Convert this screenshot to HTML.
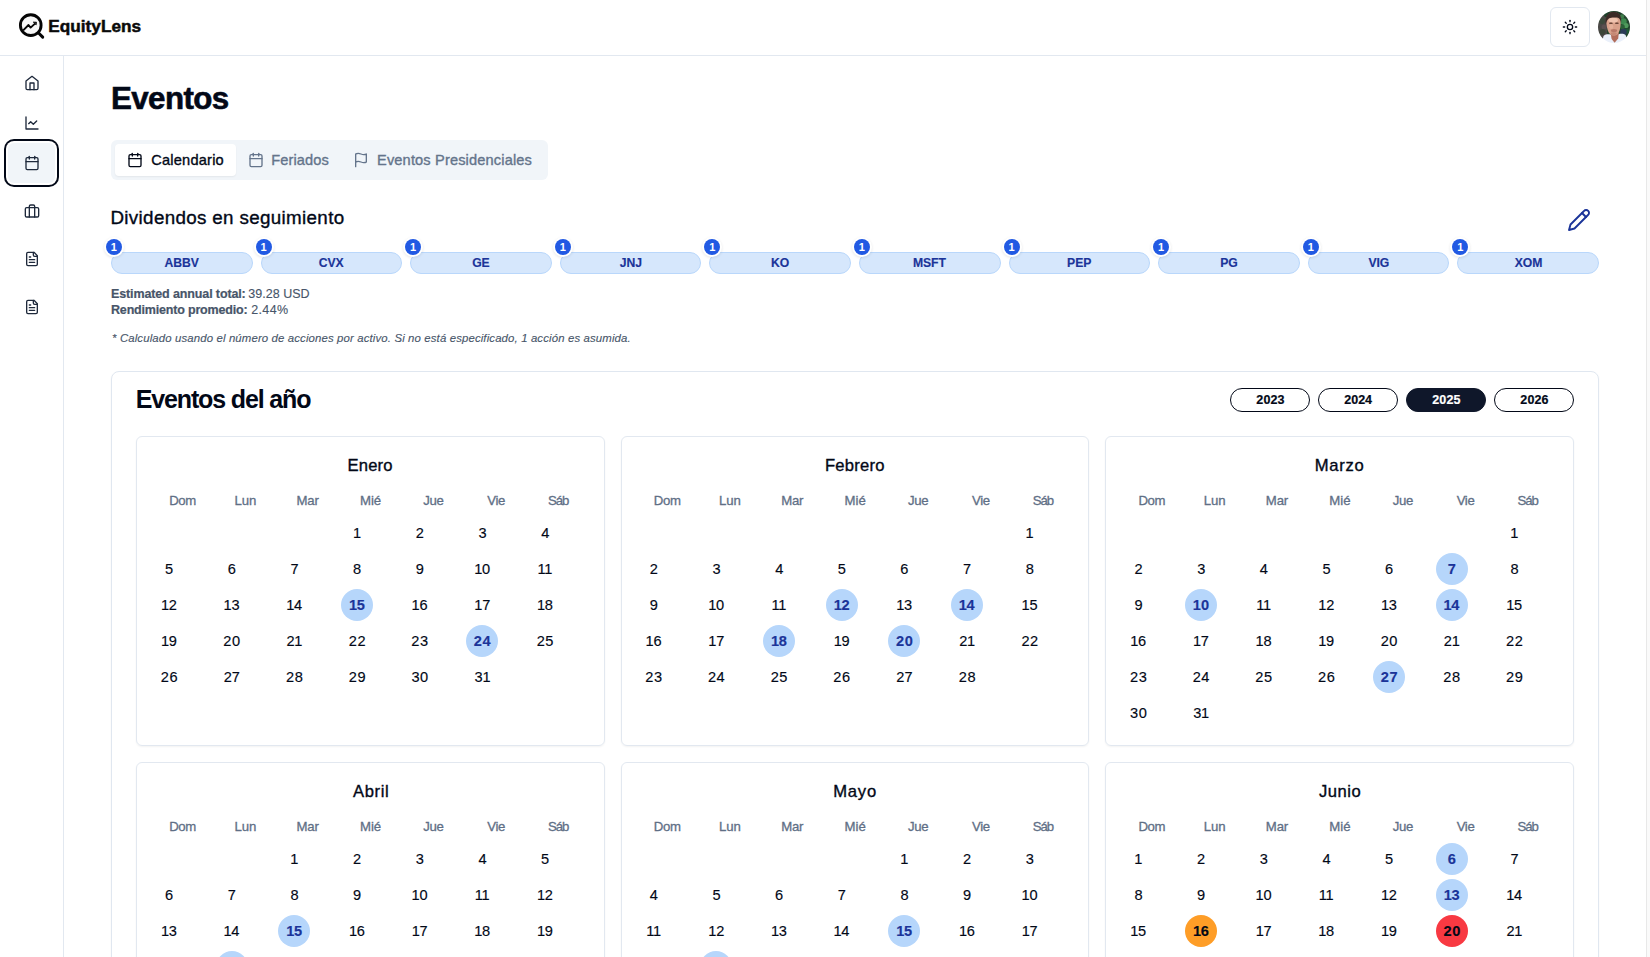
<!DOCTYPE html>
<html lang="es"><head><meta charset="utf-8"><title>EquityLens - Eventos</title>
<style>
html,body{margin:0;padding:0;background:#fff;}
body{width:1650px;height:957px;overflow:hidden;position:relative;font-family:'Liberation Sans',sans-serif;}
.t{position:absolute;white-space:pre;display:block;margin:0;padding:0;}
.hdr{position:absolute;left:0;top:0;width:1646px;height:55px;border-bottom:1px solid #e2e8f0;background:#fff;}
.side{position:absolute;left:0;top:56px;width:63px;height:901px;border-right:1px solid #e2e8f0;}
.sbar{position:absolute;left:1646px;top:0;width:4px;height:957px;background:#fafafa;border-left:1px solid #e8e8e8;box-sizing:border-box;}
.tbtn{position:absolute;left:1550px;top:7px;width:40px;height:40px;box-sizing:border-box;border:1px solid #e2e8f0;border-radius:6px;background:#fff;}
.act{position:absolute;left:8px;top:143px;width:47px;height:40px;border-radius:6px;background:#f1f5f9;box-shadow:0 0 0 2px #fff,0 0 0 4px #020817;}
.tabs{position:absolute;left:111px;top:140px;width:437px;height:40px;border-radius:6px;background:#f1f5f9;}
.tabact{position:absolute;left:115px;top:144px;width:121px;height:32px;border-radius:4px;background:#fff;box-shadow:0 1px 2px rgba(0,0,0,.06);}
.pill{position:absolute;top:252px;height:22px;box-sizing:border-box;border:1px solid #b9d7fb;border-radius:11px;background:#d6e7fc;}
.bdg{position:absolute;top:239px;width:16px;height:16px;border-radius:50%;background:#2159e3;box-shadow:0 0 0 2px #fff,0 1px 3px 2px rgba(0,0,0,.10);}
.card{position:absolute;left:111px;top:371px;width:1488px;height:700px;box-sizing:border-box;border:1px solid #e0e7f0;border-radius:8px;box-shadow:0 1px 2px rgba(0,0,0,.05);}
.yb{position:absolute;top:388px;width:80px;height:24px;box-sizing:border-box;border:1px solid #020817;border-radius:12px;background:#fff;}
.ys{background:#0f172a;border-color:#0f172a;}
.mc{position:absolute;height:310px;box-sizing:border-box;border:1px solid #e2e8f0;border-radius:6px;box-shadow:0 1px 2px rgba(0,0,0,.05);}
.ev{position:absolute;width:32px;height:32px;border-radius:50%;}
.evb{background:#b6d6fb;}
.evo{background:#fe9d27;}
.evr{background:#f83942;}
</style></head>
<body>
<div class="sbar"></div>
<header>
<div class="hdr"></div>
<svg style="position:absolute;left:16px;top:10px" width="32" height="32" viewBox="0 0 32 32" fill="none" stroke="#050505" stroke-linecap="round" stroke-linejoin="round">
<circle cx="14.75" cy="15.15" r="10.35" stroke-width="2.85" fill="#f7f7f7"/>
<path d="M22.6 23 L26.7 27.1" stroke-width="3"/>
<path d="M7.2 20.4 L12.5 15 L14.6 17.6 L19 13.6" stroke-width="1.9" stroke-linecap="butt"/>
<path d="M17.6 12.1 L20.5 12.2 L20.2 14.6 Z" fill="#050505" stroke-width="0.8"/>
</svg>
<span class="t" style="left:48.31px;top:16px;line-height:20px;height:20px;font-size:17.2px;font-weight:700;color:#0a0a0a;letter-spacing:0.022px;-webkit-text-stroke:0.5px #0a0a0a;">EquityLens</span>
<div class="tbtn"></div>
<svg style="position:absolute;left:1562px;top:19px" width="16" height="16" viewBox="0 0 24 24" fill="none" stroke="#020817" stroke-width="2" stroke-linecap="round" stroke-linejoin="round" ><circle cx="12" cy="12" r="4"/><path d="M12 2v2"/><path d="M12 20v2"/><path d="m4.93 4.93 1.41 1.41"/><path d="m17.66 17.66 1.41 1.41"/><path d="M2 12h2"/><path d="M20 12h2"/><path d="m6.34 17.66-1.41 1.41"/><path d="m19.07 4.93-1.41 1.41"/></svg>
<svg style="position:absolute;left:1598px;top:11px" width="32" height="32" viewBox="0 0 32 32">
<defs><clipPath id="av"><circle cx="16" cy="16" r="16"/></clipPath>
<filter id="bl" x="-10%" y="-10%" width="120%" height="120%"><feGaussianBlur stdDeviation="0.75"/></filter>
</defs>
<g clip-path="url(#av)"><g filter="url(#bl)">
<rect x="-2" y="-2" width="36" height="36" fill="#22442d"/>
<rect x="-2" y="4" width="11" height="27" fill="#4a4745"/>
<circle cx="4" cy="10" r="3" fill="#3b4a3b"/>
<circle cx="6" cy="16" r="2.5" fill="#5a5050"/>
<circle cx="4.5" cy="21" r="3" fill="#3a4438"/>
<circle cx="7.5" cy="25" r="2.5" fill="#4d4547"/>
<circle cx="9" cy="3.5" r="3" fill="#1f3f2a"/>
<circle cx="25.5" cy="10.5" r="3.2" fill="#3d8a50"/>
<circle cx="28" cy="14.5" r="2.6" fill="#4f9a5c"/>
<circle cx="24.5" cy="16" r="2.4" fill="#2a6038"/>
<circle cx="24" cy="5.5" r="2.2" fill="#3f7d4b"/>
<circle cx="28.5" cy="20" r="2.5" fill="#1f5a35"/>
<circle cx="25.5" cy="21" r="3.2" fill="#2a3a58"/>
<circle cx="20" cy="1.5" r="3" fill="#1d3b26"/>
<path d="M3 36 L5.5 25 C8 23 10.5 23.2 12.5 23.6 L20.6 23.2 C23 22.4 26 22.6 27.6 24 L31 36 Z" fill="#eaf0fa"/>
<path d="M12.6 22 L20.8 22 L20.2 27.5 L16.6 31.8 L13.6 28 Z" fill="#b26e5c"/>
<path d="M8.4 12.5 C7.4 5 11 1 15.5 1 C20.5 1 23.6 4.5 22.7 12.5 C22.4 17.5 21.4 21.4 19.6 23.2 C17.6 25 14.2 25 12.2 23.2 C10 21.2 9 17.5 8.4 12.5 Z" fill="#d9a18b"/>
<ellipse cx="15.2" cy="9.2" rx="4.6" ry="2.4" fill="#efc3af"/>
<ellipse cx="13.3" cy="15.5" rx="2" ry="2.6" fill="#e4b09a"/>
<path d="M7.8 13.2 C6.6 5.5 10.5 0.8 15.6 0.8 C21.2 0.8 24.2 5 23 12.6 C22.6 9 21.4 6.9 19 6.6 C16 6.3 13 6.2 11.2 7.2 C9.5 8.2 8.6 10.2 7.8 13.2 Z" fill="#3a2a28"/>
<ellipse cx="16" cy="19.4" rx="3.1" ry="1.5" fill="#a9685a" opacity="0.7"/>
<ellipse cx="15.8" cy="22.6" rx="3" ry="1.5" fill="#b87a68" opacity="0.6"/>
<rect x="11.2" y="11.6" width="3.4" height="1.5" rx="0.7" fill="#6a4438"/>
<rect x="17.2" y="11.6" width="3.4" height="1.5" rx="0.7" fill="#6a4438"/>
</g></g></svg>
</header>
<aside><nav>
<div class="side"></div>
<svg style="position:absolute;left:24px;top:75px" width="16" height="16" viewBox="0 0 24 24" fill="none" stroke="#1e293b" stroke-width="2" stroke-linecap="round" stroke-linejoin="round" ><path d="m3 9 9-7 9 7v11a2 2 0 0 1-2 2H5a2 2 0 0 1-2-2z"/><polyline points="9 22 9 12 15 12 15 22"/></svg>
<svg style="position:absolute;left:24px;top:115px" width="16" height="16" viewBox="0 0 24 24" fill="none" stroke="#1e293b" stroke-width="2" stroke-linecap="round" stroke-linejoin="round" ><path d="M3 3v18h18"/><path d="m19 9-5 5-4-4-3 3"/></svg>
<div class="act"></div>
<svg style="position:absolute;left:24px;top:155px" width="16" height="16" viewBox="0 0 24 24" fill="none" stroke="#1e293b" stroke-width="2" stroke-linecap="round" stroke-linejoin="round" ><path d="M8 2v4"/><path d="M16 2v4"/><rect width="18" height="18" x="3" y="4" rx="2"/><path d="M3 10h18"/></svg>
<svg style="position:absolute;left:24px;top:202.5px" width="16" height="16" viewBox="0 0 24 24" fill="none" stroke="#1e293b" stroke-width="2" stroke-linecap="round" stroke-linejoin="round" ><rect width="20" height="14" x="2" y="7" rx="2" ry="2"/><path d="M16 21V5a2 2 0 0 0-2-2h-4a2 2 0 0 0-2 2v16"/></svg>
<svg style="position:absolute;left:24px;top:251px" width="16" height="16" viewBox="0 0 24 24" fill="none" stroke="#1e293b" stroke-width="2" stroke-linecap="round" stroke-linejoin="round" ><path d="M15 2H6a2 2 0 0 0-2 2v16a2 2 0 0 0 2 2h12a2 2 0 0 0 2-2V7Z"/><path d="M14 2v4a2 2 0 0 0 2 2h4"/><path d="M10 9H8"/><path d="M16 13H8"/><path d="M16 17H8"/></svg>
<svg style="position:absolute;left:24px;top:299px" width="16" height="16" viewBox="0 0 24 24" fill="none" stroke="#1e293b" stroke-width="2" stroke-linecap="round" stroke-linejoin="round" ><path d="M15 2H6a2 2 0 0 0-2 2v16a2 2 0 0 0 2 2h12a2 2 0 0 0 2-2V7Z"/><path d="M14 2v4a2 2 0 0 0 2 2h4"/><path d="M10 9H8"/><path d="M16 13H8"/><path d="M16 17H8"/></svg>
</nav></aside>
<main>
<h1 class="t" style="left:110.97px;top:81px;line-height:35px;height:35px;font-size:31.3px;font-weight:700;color:#020817;letter-spacing:-0.592px;-webkit-text-stroke:0.6px #020817;">Eventos</h1>
<div role="tablist">
<div class="tabs"></div><div class="tabact"></div>
<svg style="position:absolute;left:127px;top:152px" width="16" height="16" viewBox="0 0 24 24" fill="none" stroke="#020817" stroke-width="2" stroke-linecap="round" stroke-linejoin="round" ><path d="M8 2v4"/><path d="M16 2v4"/><rect width="18" height="18" x="3" y="4" rx="2"/><path d="M3 10h18"/></svg>
<span class="t" style="left:151.28px;top:152px;line-height:16px;height:16px;font-size:14.6px;font-weight:400;color:#020817;letter-spacing:0.205px;-webkit-text-stroke:0.35px #020817;">Calendario</span>
<svg style="position:absolute;left:248px;top:152px" width="16" height="16" viewBox="0 0 24 24" fill="none" stroke="#64748b" stroke-width="2" stroke-linecap="round" stroke-linejoin="round" ><path d="M8 2v4"/><path d="M16 2v4"/><rect width="18" height="18" x="3" y="4" rx="2"/><path d="M3 10h18"/></svg>
<span class="t" style="left:271.34px;top:152px;line-height:16px;height:16px;font-size:14.6px;font-weight:400;color:#64748b;letter-spacing:0.092px;-webkit-text-stroke:0.35px #64748b;">Feriados</span>
<svg style="position:absolute;left:353px;top:152px" width="16" height="16" viewBox="0 0 24 24" fill="none" stroke="#64748b" stroke-width="2" stroke-linecap="round" stroke-linejoin="round" ><path d="M4 15s1-1 4-1 5 2 8 2 4-1 4-1V3s-1 1-4 1-5-2-8-2-4 1-4 1z"/><line x1="4" x2="4" y1="22" y2="15"/></svg>
<span class="t" style="left:377.02px;top:152px;line-height:16px;height:16px;font-size:14.6px;font-weight:400;color:#64748b;letter-spacing:0.150px;-webkit-text-stroke:0.35px #64748b;">Eventos Presidenciales</span>
</div>
<section>
<h2 class="t" style="left:110.44px;top:207px;line-height:21px;height:21px;font-size:18.8px;font-weight:400;color:#020817;letter-spacing:0.341px;-webkit-text-stroke:0.35px #020817;">Dividendos en seguimiento</h2>
<svg style="position:absolute;left:1567px;top:207.5px" width="24" height="24" viewBox="0 0 24 24" fill="none" stroke="#1b3499" stroke-width="1.9" stroke-linecap="round" stroke-linejoin="round" ><path d="M17 3a2.85 2.83 0 1 1 4 4L7.5 20.5 2 22l1.5-5.5Z"/><path d="m15 5 4 4"/></svg>
<div class="pill" style="left:111.00px;width:141.60px"></div>
<div class="bdg" style="left:106.00px"></div>
<span class="t" style="left:164.57px;top:256px;line-height:14px;height:14px;font-size:12.2px;font-weight:700;color:#1b3499;letter-spacing:-0.100px;-webkit-text-stroke:0.15px #1b3499;">ABBV</span>
<span class="t" style="left:110.84px;top:241px;line-height:12px;height:12px;font-size:11px;font-weight:700;color:#ffffff;letter-spacing:0.000px;">1</span>
<div class="pill" style="left:260.60px;width:141.60px"></div>
<div class="bdg" style="left:255.60px"></div>
<span class="t" style="left:318.77px;top:256px;line-height:14px;height:14px;font-size:12.2px;font-weight:700;color:#1b3499;letter-spacing:-0.100px;-webkit-text-stroke:0.15px #1b3499;">CVX</span>
<span class="t" style="left:260.44px;top:241px;line-height:12px;height:12px;font-size:11px;font-weight:700;color:#ffffff;letter-spacing:0.000px;">1</span>
<div class="pill" style="left:410.20px;width:141.60px"></div>
<div class="bdg" style="left:405.20px"></div>
<span class="t" style="left:472.23px;top:256px;line-height:14px;height:14px;font-size:12.2px;font-weight:700;color:#1b3499;letter-spacing:-0.100px;-webkit-text-stroke:0.15px #1b3499;">GE</span>
<span class="t" style="left:410.04px;top:241px;line-height:12px;height:12px;font-size:11px;font-weight:700;color:#ffffff;letter-spacing:0.000px;">1</span>
<div class="pill" style="left:559.80px;width:141.60px"></div>
<div class="bdg" style="left:554.80px"></div>
<span class="t" style="left:619.84px;top:256px;line-height:14px;height:14px;font-size:12.2px;font-weight:700;color:#1b3499;letter-spacing:-0.100px;-webkit-text-stroke:0.15px #1b3499;">JNJ</span>
<span class="t" style="left:559.64px;top:241px;line-height:12px;height:12px;font-size:11px;font-weight:700;color:#ffffff;letter-spacing:0.000px;">1</span>
<div class="pill" style="left:709.40px;width:141.60px"></div>
<div class="bdg" style="left:704.40px"></div>
<span class="t" style="left:770.96px;top:256px;line-height:14px;height:14px;font-size:12.2px;font-weight:700;color:#1b3499;letter-spacing:-0.100px;-webkit-text-stroke:0.15px #1b3499;">KO</span>
<span class="t" style="left:709.24px;top:241px;line-height:12px;height:12px;font-size:11px;font-weight:700;color:#ffffff;letter-spacing:0.000px;">1</span>
<div class="pill" style="left:859.00px;width:141.60px"></div>
<div class="bdg" style="left:854.00px"></div>
<span class="t" style="left:913.02px;top:256px;line-height:14px;height:14px;font-size:12.2px;font-weight:700;color:#1b3499;letter-spacing:-0.100px;-webkit-text-stroke:0.15px #1b3499;">MSFT</span>
<span class="t" style="left:858.84px;top:241px;line-height:12px;height:12px;font-size:11px;font-weight:700;color:#ffffff;letter-spacing:0.000px;">1</span>
<div class="pill" style="left:1008.60px;width:141.60px"></div>
<div class="bdg" style="left:1003.60px"></div>
<span class="t" style="left:1067.11px;top:256px;line-height:14px;height:14px;font-size:12.2px;font-weight:700;color:#1b3499;letter-spacing:-0.100px;-webkit-text-stroke:0.15px #1b3499;">PEP</span>
<span class="t" style="left:1008.44px;top:241px;line-height:12px;height:12px;font-size:11px;font-weight:700;color:#ffffff;letter-spacing:0.000px;">1</span>
<div class="pill" style="left:1158.20px;width:141.60px"></div>
<div class="bdg" style="left:1153.20px"></div>
<span class="t" style="left:1220.22px;top:256px;line-height:14px;height:14px;font-size:12.2px;font-weight:700;color:#1b3499;letter-spacing:-0.100px;-webkit-text-stroke:0.15px #1b3499;">PG</span>
<span class="t" style="left:1158.04px;top:241px;line-height:12px;height:12px;font-size:11px;font-weight:700;color:#ffffff;letter-spacing:0.000px;">1</span>
<div class="pill" style="left:1307.80px;width:141.60px"></div>
<div class="bdg" style="left:1302.80px"></div>
<span class="t" style="left:1368.54px;top:256px;line-height:14px;height:14px;font-size:12.2px;font-weight:700;color:#1b3499;letter-spacing:-0.100px;-webkit-text-stroke:0.15px #1b3499;">VIG</span>
<span class="t" style="left:1307.64px;top:241px;line-height:12px;height:12px;font-size:11px;font-weight:700;color:#ffffff;letter-spacing:0.000px;">1</span>
<div class="pill" style="left:1457.40px;width:141.60px"></div>
<div class="bdg" style="left:1452.40px"></div>
<span class="t" style="left:1514.77px;top:256px;line-height:14px;height:14px;font-size:12.2px;font-weight:700;color:#1b3499;letter-spacing:-0.100px;-webkit-text-stroke:0.15px #1b3499;">XOM</span>
<span class="t" style="left:1457.24px;top:241px;line-height:12px;height:12px;font-size:11px;font-weight:700;color:#ffffff;letter-spacing:0.000px;">1</span>
<span class="t" style="left:111.02px;top:287px;line-height:14px;height:14px;font-size:12.5px;font-weight:700;color:#475569;letter-spacing:-0.125px;-webkit-text-stroke:0.2px #475569;">Estimated annual total:</span>
<span class="t" style="left:248.26px;top:287px;line-height:14px;height:14px;font-size:12.5px;font-weight:400;color:#475569;letter-spacing:0.022px;-webkit-text-stroke:0.12px #475569;">39.28 USD</span>
<span class="t" style="left:111.02px;top:303px;line-height:14px;height:14px;font-size:12.5px;font-weight:700;color:#475569;letter-spacing:-0.183px;-webkit-text-stroke:0.2px #475569;">Rendimiento promedio:</span>
<span class="t" style="left:251.15px;top:303px;line-height:14px;height:14px;font-size:12.5px;font-weight:400;color:#475569;letter-spacing:0.370px;-webkit-text-stroke:0.12px #475569;">2.44%</span>
<span class="t" style="left:112.03px;top:332px;line-height:12px;height:12px;font-size:11.4px;font-weight:400;font-style:italic;color:#475569;letter-spacing:0.131px;-webkit-text-stroke:0.12px #475569;">* Calculado usando el número de acciones por activo. Si no está especificado, 1 acción es asumida.</span>
</section>
<section>
<div class="card"></div>
<h2 class="t" style="left:135.75px;top:385px;line-height:28px;height:28px;font-size:25px;font-weight:700;color:#020817;letter-spacing:-1.145px;">Eventos del año</h2>
<div class="yb" style="left:1230px"></div>
<span class="t" style="left:1256.37px;top:393px;line-height:14px;height:14px;font-size:12.5px;font-weight:700;color:#020817;letter-spacing:0.091px;-webkit-text-stroke:0.2px #020817;">2023</span>
<div class="yb" style="left:1318px"></div>
<span class="t" style="left:1344.37px;top:393px;line-height:14px;height:14px;font-size:12.5px;font-weight:700;color:#020817;letter-spacing:-0.037px;-webkit-text-stroke:0.2px #020817;">2024</span>
<div class="yb ys" style="left:1406px"></div>
<span class="t" style="left:1432.37px;top:393px;line-height:14px;height:14px;font-size:12.5px;font-weight:700;color:#ffffff;letter-spacing:0.056px;-webkit-text-stroke:0.2px #ffffff;">2025</span>
<div class="yb" style="left:1494px"></div>
<span class="t" style="left:1520.37px;top:393px;line-height:14px;height:14px;font-size:12.5px;font-weight:700;color:#020817;letter-spacing:0.091px;-webkit-text-stroke:0.2px #020817;">2026</span>
<div class="mc" style="left:136.00px;top:436px;width:468.67px"></div>
<h3 class="t" style="left:347.42px;top:456px;line-height:19px;height:19px;font-size:16.6px;font-weight:400;color:#020817;letter-spacing:0.219px;-webkit-text-stroke:0.35px #020817;">Enero</h3>
<span class="t" style="left:169.15px;top:493px;line-height:15px;height:15px;font-size:13.2px;font-weight:400;color:#5f6f86;letter-spacing:-0.395px;-webkit-text-stroke:0.3px #5f6f86;">Dom</span>
<span class="t" style="left:234.42px;top:493px;line-height:15px;height:15px;font-size:13.2px;font-weight:400;color:#5f6f86;letter-spacing:-0.088px;-webkit-text-stroke:0.3px #5f6f86;">Lun</span>
<span class="t" style="left:296.53px;top:493px;line-height:15px;height:15px;font-size:13.2px;font-weight:400;color:#5f6f86;letter-spacing:-0.208px;-webkit-text-stroke:0.3px #5f6f86;">Mar</span>
<span class="t" style="left:359.90px;top:493px;line-height:15px;height:15px;font-size:13.2px;font-weight:400;color:#5f6f86;letter-spacing:0.010px;-webkit-text-stroke:0.3px #5f6f86;">Mié</span>
<span class="t" style="left:423.34px;top:493px;line-height:15px;height:15px;font-size:13.2px;font-weight:400;color:#5f6f86;letter-spacing:-0.336px;-webkit-text-stroke:0.3px #5f6f86;">Jue</span>
<span class="t" style="left:487.31px;top:493px;line-height:15px;height:15px;font-size:13.2px;font-weight:400;color:#5f6f86;letter-spacing:-0.342px;-webkit-text-stroke:0.3px #5f6f86;">Vie</span>
<span class="t" style="left:548.08px;top:493px;line-height:15px;height:15px;font-size:13.2px;font-weight:400;color:#5f6f86;letter-spacing:-1.058px;-webkit-text-stroke:0.3px #5f6f86;">Sáb</span>
<span class="t" style="left:352.89px;top:525px;line-height:16px;height:16px;font-size:14.6px;font-weight:400;color:#020817;letter-spacing:0.000px;-webkit-text-stroke:0.15px #020817;">1</span>
<span class="t" style="left:415.75px;top:525px;line-height:16px;height:16px;font-size:14.6px;font-weight:400;color:#020817;letter-spacing:0.000px;-webkit-text-stroke:0.15px #020817;">2</span>
<span class="t" style="left:478.46px;top:525px;line-height:16px;height:16px;font-size:14.6px;font-weight:400;color:#020817;letter-spacing:0.000px;-webkit-text-stroke:0.15px #020817;">3</span>
<span class="t" style="left:541.13px;top:525px;line-height:16px;height:16px;font-size:14.6px;font-weight:400;color:#020817;letter-spacing:0.000px;-webkit-text-stroke:0.15px #020817;">4</span>
<span class="t" style="left:165.10px;top:561px;line-height:16px;height:16px;font-size:14.6px;font-weight:400;color:#020817;letter-spacing:0.000px;-webkit-text-stroke:0.15px #020817;">5</span>
<span class="t" style="left:227.70px;top:561px;line-height:16px;height:16px;font-size:14.6px;font-weight:400;color:#020817;letter-spacing:0.000px;-webkit-text-stroke:0.15px #020817;">6</span>
<span class="t" style="left:290.41px;top:561px;line-height:16px;height:16px;font-size:14.6px;font-weight:400;color:#020817;letter-spacing:0.000px;-webkit-text-stroke:0.15px #020817;">7</span>
<span class="t" style="left:353.09px;top:561px;line-height:16px;height:16px;font-size:14.6px;font-weight:400;color:#020817;letter-spacing:0.000px;-webkit-text-stroke:0.15px #020817;">8</span>
<span class="t" style="left:415.76px;top:561px;line-height:16px;height:16px;font-size:14.6px;font-weight:400;color:#020817;letter-spacing:0.000px;-webkit-text-stroke:0.15px #020817;">9</span>
<span class="t" style="left:474.25px;top:561px;line-height:16px;height:16px;font-size:14.6px;font-weight:400;color:#020817;letter-spacing:-0.300px;-webkit-text-stroke:0.15px #020817;">10</span>
<span class="t" style="left:537.52px;top:561px;line-height:16px;height:16px;font-size:14.6px;font-weight:400;color:#020817;letter-spacing:-0.300px;-webkit-text-stroke:0.15px #020817;">11</span>
<span class="t" style="left:160.99px;top:597px;line-height:16px;height:16px;font-size:14.6px;font-weight:400;color:#020817;letter-spacing:-0.300px;-webkit-text-stroke:0.15px #020817;">12</span>
<span class="t" style="left:223.61px;top:597px;line-height:16px;height:16px;font-size:14.6px;font-weight:400;color:#020817;letter-spacing:-0.300px;-webkit-text-stroke:0.15px #020817;">13</span>
<span class="t" style="left:286.17px;top:597px;line-height:16px;height:16px;font-size:14.6px;font-weight:400;color:#020817;letter-spacing:-0.300px;-webkit-text-stroke:0.15px #020817;">14</span>
<div class="ev evb" style="left:341.00px;top:589.00px"></div>
<span class="t" style="left:348.93px;top:597px;line-height:16px;height:16px;font-size:14.6px;font-weight:700;color:#1b3499;letter-spacing:-0.300px;-webkit-text-stroke:0.15px #1b3499;">15</span>
<span class="t" style="left:411.61px;top:597px;line-height:16px;height:16px;font-size:14.6px;font-weight:400;color:#020817;letter-spacing:-0.300px;-webkit-text-stroke:0.15px #020817;">16</span>
<span class="t" style="left:474.33px;top:597px;line-height:16px;height:16px;font-size:14.6px;font-weight:400;color:#020817;letter-spacing:-0.300px;-webkit-text-stroke:0.15px #020817;">17</span>
<span class="t" style="left:536.94px;top:597px;line-height:16px;height:16px;font-size:14.6px;font-weight:400;color:#020817;letter-spacing:-0.300px;-webkit-text-stroke:0.15px #020817;">18</span>
<span class="t" style="left:160.97px;top:633px;line-height:16px;height:16px;font-size:14.6px;font-weight:400;color:#020817;letter-spacing:-0.300px;-webkit-text-stroke:0.15px #020817;">19</span>
<span class="t" style="left:223.32px;top:633px;line-height:16px;height:16px;font-size:14.6px;font-weight:400;color:#020817;letter-spacing:0.600px;-webkit-text-stroke:0.15px #020817;">20</span>
<span class="t" style="left:286.51px;top:633px;line-height:16px;height:16px;font-size:14.6px;font-weight:400;color:#020817;letter-spacing:-0.300px;-webkit-text-stroke:0.15px #020817;">21</span>
<span class="t" style="left:348.73px;top:633px;line-height:16px;height:16px;font-size:14.6px;font-weight:400;color:#020817;letter-spacing:0.600px;-webkit-text-stroke:0.15px #020817;">22</span>
<span class="t" style="left:411.35px;top:633px;line-height:16px;height:16px;font-size:14.6px;font-weight:400;color:#020817;letter-spacing:0.600px;-webkit-text-stroke:0.15px #020817;">23</span>
<div class="ev evb" style="left:466.33px;top:625.00px"></div>
<span class="t" style="left:473.85px;top:633px;line-height:16px;height:16px;font-size:14.6px;font-weight:700;color:#1b3499;letter-spacing:0.600px;-webkit-text-stroke:0.15px #1b3499;">24</span>
<span class="t" style="left:536.67px;top:633px;line-height:16px;height:16px;font-size:14.6px;font-weight:400;color:#020817;letter-spacing:0.600px;-webkit-text-stroke:0.15px #020817;">25</span>
<span class="t" style="left:160.69px;top:669px;line-height:16px;height:16px;font-size:14.6px;font-weight:400;color:#020817;letter-spacing:0.600px;-webkit-text-stroke:0.15px #020817;">26</span>
<span class="t" style="left:223.68px;top:669px;line-height:16px;height:16px;font-size:14.6px;font-weight:400;color:#020817;letter-spacing:0.034px;-webkit-text-stroke:0.15px #020817;">27</span>
<span class="t" style="left:286.02px;top:669px;line-height:16px;height:16px;font-size:14.6px;font-weight:400;color:#020817;letter-spacing:0.600px;-webkit-text-stroke:0.15px #020817;">28</span>
<span class="t" style="left:348.71px;top:669px;line-height:16px;height:16px;font-size:14.6px;font-weight:400;color:#020817;letter-spacing:0.600px;-webkit-text-stroke:0.15px #020817;">29</span>
<span class="t" style="left:411.41px;top:669px;line-height:16px;height:16px;font-size:14.6px;font-weight:400;color:#020817;letter-spacing:0.600px;-webkit-text-stroke:0.15px #020817;">30</span>
<span class="t" style="left:474.59px;top:669px;line-height:16px;height:16px;font-size:14.6px;font-weight:400;color:#020817;letter-spacing:-0.300px;-webkit-text-stroke:0.15px #020817;">31</span>
<div class="mc" style="left:620.67px;top:436px;width:468.67px"></div>
<h3 class="t" style="left:824.89px;top:456px;line-height:19px;height:19px;font-size:16.6px;font-weight:400;color:#020817;letter-spacing:0.242px;-webkit-text-stroke:0.35px #020817;">Febrero</h3>
<span class="t" style="left:653.82px;top:493px;line-height:15px;height:15px;font-size:13.2px;font-weight:400;color:#5f6f86;letter-spacing:-0.395px;-webkit-text-stroke:0.3px #5f6f86;">Dom</span>
<span class="t" style="left:719.08px;top:493px;line-height:15px;height:15px;font-size:13.2px;font-weight:400;color:#5f6f86;letter-spacing:-0.088px;-webkit-text-stroke:0.3px #5f6f86;">Lun</span>
<span class="t" style="left:781.20px;top:493px;line-height:15px;height:15px;font-size:13.2px;font-weight:400;color:#5f6f86;letter-spacing:-0.208px;-webkit-text-stroke:0.3px #5f6f86;">Mar</span>
<span class="t" style="left:844.57px;top:493px;line-height:15px;height:15px;font-size:13.2px;font-weight:400;color:#5f6f86;letter-spacing:0.010px;-webkit-text-stroke:0.3px #5f6f86;">Mié</span>
<span class="t" style="left:908.01px;top:493px;line-height:15px;height:15px;font-size:13.2px;font-weight:400;color:#5f6f86;letter-spacing:-0.336px;-webkit-text-stroke:0.3px #5f6f86;">Jue</span>
<span class="t" style="left:971.98px;top:493px;line-height:15px;height:15px;font-size:13.2px;font-weight:400;color:#5f6f86;letter-spacing:-0.342px;-webkit-text-stroke:0.3px #5f6f86;">Vie</span>
<span class="t" style="left:1032.75px;top:493px;line-height:15px;height:15px;font-size:13.2px;font-weight:400;color:#5f6f86;letter-spacing:-1.058px;-webkit-text-stroke:0.3px #5f6f86;">Sáb</span>
<span class="t" style="left:1025.55px;top:525px;line-height:16px;height:16px;font-size:14.6px;font-weight:400;color:#020817;letter-spacing:0.000px;-webkit-text-stroke:0.15px #020817;">1</span>
<span class="t" style="left:649.75px;top:561px;line-height:16px;height:16px;font-size:14.6px;font-weight:400;color:#020817;letter-spacing:0.000px;-webkit-text-stroke:0.15px #020817;">2</span>
<span class="t" style="left:712.46px;top:561px;line-height:16px;height:16px;font-size:14.6px;font-weight:400;color:#020817;letter-spacing:0.000px;-webkit-text-stroke:0.15px #020817;">3</span>
<span class="t" style="left:775.13px;top:561px;line-height:16px;height:16px;font-size:14.6px;font-weight:400;color:#020817;letter-spacing:0.000px;-webkit-text-stroke:0.15px #020817;">4</span>
<span class="t" style="left:837.77px;top:561px;line-height:16px;height:16px;font-size:14.6px;font-weight:400;color:#020817;letter-spacing:0.000px;-webkit-text-stroke:0.15px #020817;">5</span>
<span class="t" style="left:900.37px;top:561px;line-height:16px;height:16px;font-size:14.6px;font-weight:400;color:#020817;letter-spacing:0.000px;-webkit-text-stroke:0.15px #020817;">6</span>
<span class="t" style="left:963.08px;top:561px;line-height:16px;height:16px;font-size:14.6px;font-weight:400;color:#020817;letter-spacing:0.000px;-webkit-text-stroke:0.15px #020817;">7</span>
<span class="t" style="left:1025.75px;top:561px;line-height:16px;height:16px;font-size:14.6px;font-weight:400;color:#020817;letter-spacing:0.000px;-webkit-text-stroke:0.15px #020817;">8</span>
<span class="t" style="left:649.76px;top:597px;line-height:16px;height:16px;font-size:14.6px;font-weight:400;color:#020817;letter-spacing:0.000px;-webkit-text-stroke:0.15px #020817;">9</span>
<span class="t" style="left:708.25px;top:597px;line-height:16px;height:16px;font-size:14.6px;font-weight:400;color:#020817;letter-spacing:-0.300px;-webkit-text-stroke:0.15px #020817;">10</span>
<span class="t" style="left:771.52px;top:597px;line-height:16px;height:16px;font-size:14.6px;font-weight:400;color:#020817;letter-spacing:-0.300px;-webkit-text-stroke:0.15px #020817;">11</span>
<div class="ev evb" style="left:825.67px;top:589.00px"></div>
<span class="t" style="left:833.68px;top:597px;line-height:16px;height:16px;font-size:14.6px;font-weight:700;color:#1b3499;letter-spacing:-0.300px;-webkit-text-stroke:0.15px #1b3499;">12</span>
<span class="t" style="left:896.28px;top:597px;line-height:16px;height:16px;font-size:14.6px;font-weight:400;color:#020817;letter-spacing:-0.300px;-webkit-text-stroke:0.15px #020817;">13</span>
<div class="ev evb" style="left:951.00px;top:589.00px"></div>
<span class="t" style="left:958.76px;top:597px;line-height:16px;height:16px;font-size:14.6px;font-weight:700;color:#1b3499;letter-spacing:-0.300px;-webkit-text-stroke:0.15px #1b3499;">14</span>
<span class="t" style="left:1021.60px;top:597px;line-height:16px;height:16px;font-size:14.6px;font-weight:400;color:#020817;letter-spacing:-0.300px;-webkit-text-stroke:0.15px #020817;">15</span>
<span class="t" style="left:645.61px;top:633px;line-height:16px;height:16px;font-size:14.6px;font-weight:400;color:#020817;letter-spacing:-0.300px;-webkit-text-stroke:0.15px #020817;">16</span>
<span class="t" style="left:708.33px;top:633px;line-height:16px;height:16px;font-size:14.6px;font-weight:400;color:#020817;letter-spacing:-0.300px;-webkit-text-stroke:0.15px #020817;">17</span>
<div class="ev evb" style="left:763.00px;top:625.00px"></div>
<span class="t" style="left:770.95px;top:633px;line-height:16px;height:16px;font-size:14.6px;font-weight:700;color:#1b3499;letter-spacing:-0.300px;-webkit-text-stroke:0.15px #1b3499;">18</span>
<span class="t" style="left:833.64px;top:633px;line-height:16px;height:16px;font-size:14.6px;font-weight:400;color:#020817;letter-spacing:-0.300px;-webkit-text-stroke:0.15px #020817;">19</span>
<div class="ev evb" style="left:888.33px;top:625.00px"></div>
<span class="t" style="left:896.11px;top:633px;line-height:16px;height:16px;font-size:14.6px;font-weight:700;color:#1b3499;letter-spacing:0.600px;-webkit-text-stroke:0.15px #1b3499;">20</span>
<span class="t" style="left:959.17px;top:633px;line-height:16px;height:16px;font-size:14.6px;font-weight:400;color:#020817;letter-spacing:-0.300px;-webkit-text-stroke:0.15px #020817;">21</span>
<span class="t" style="left:1021.40px;top:633px;line-height:16px;height:16px;font-size:14.6px;font-weight:400;color:#020817;letter-spacing:0.600px;-webkit-text-stroke:0.15px #020817;">22</span>
<span class="t" style="left:645.35px;top:669px;line-height:16px;height:16px;font-size:14.6px;font-weight:400;color:#020817;letter-spacing:0.600px;-webkit-text-stroke:0.15px #020817;">23</span>
<span class="t" style="left:708.00px;top:669px;line-height:16px;height:16px;font-size:14.6px;font-weight:400;color:#020817;letter-spacing:0.428px;-webkit-text-stroke:0.15px #020817;">24</span>
<span class="t" style="left:770.67px;top:669px;line-height:16px;height:16px;font-size:14.6px;font-weight:400;color:#020817;letter-spacing:0.600px;-webkit-text-stroke:0.15px #020817;">25</span>
<span class="t" style="left:833.35px;top:669px;line-height:16px;height:16px;font-size:14.6px;font-weight:400;color:#020817;letter-spacing:0.600px;-webkit-text-stroke:0.15px #020817;">26</span>
<span class="t" style="left:896.35px;top:669px;line-height:16px;height:16px;font-size:14.6px;font-weight:400;color:#020817;letter-spacing:0.034px;-webkit-text-stroke:0.15px #020817;">27</span>
<span class="t" style="left:958.68px;top:669px;line-height:16px;height:16px;font-size:14.6px;font-weight:400;color:#020817;letter-spacing:0.600px;-webkit-text-stroke:0.15px #020817;">28</span>
<div class="mc" style="left:1105.33px;top:436px;width:468.67px"></div>
<h3 class="t" style="left:1314.80px;top:456px;line-height:19px;height:19px;font-size:16.6px;font-weight:400;color:#020817;letter-spacing:0.737px;-webkit-text-stroke:0.35px #020817;">Marzo</h3>
<span class="t" style="left:1138.48px;top:493px;line-height:15px;height:15px;font-size:13.2px;font-weight:400;color:#5f6f86;letter-spacing:-0.395px;-webkit-text-stroke:0.3px #5f6f86;">Dom</span>
<span class="t" style="left:1203.75px;top:493px;line-height:15px;height:15px;font-size:13.2px;font-weight:400;color:#5f6f86;letter-spacing:-0.088px;-webkit-text-stroke:0.3px #5f6f86;">Lun</span>
<span class="t" style="left:1265.87px;top:493px;line-height:15px;height:15px;font-size:13.2px;font-weight:400;color:#5f6f86;letter-spacing:-0.208px;-webkit-text-stroke:0.3px #5f6f86;">Mar</span>
<span class="t" style="left:1329.23px;top:493px;line-height:15px;height:15px;font-size:13.2px;font-weight:400;color:#5f6f86;letter-spacing:0.010px;-webkit-text-stroke:0.3px #5f6f86;">Mié</span>
<span class="t" style="left:1392.68px;top:493px;line-height:15px;height:15px;font-size:13.2px;font-weight:400;color:#5f6f86;letter-spacing:-0.336px;-webkit-text-stroke:0.3px #5f6f86;">Jue</span>
<span class="t" style="left:1456.64px;top:493px;line-height:15px;height:15px;font-size:13.2px;font-weight:400;color:#5f6f86;letter-spacing:-0.342px;-webkit-text-stroke:0.3px #5f6f86;">Vie</span>
<span class="t" style="left:1517.42px;top:493px;line-height:15px;height:15px;font-size:13.2px;font-weight:400;color:#5f6f86;letter-spacing:-1.058px;-webkit-text-stroke:0.3px #5f6f86;">Sáb</span>
<span class="t" style="left:1510.22px;top:525px;line-height:16px;height:16px;font-size:14.6px;font-weight:400;color:#020817;letter-spacing:0.000px;-webkit-text-stroke:0.15px #020817;">1</span>
<span class="t" style="left:1134.42px;top:561px;line-height:16px;height:16px;font-size:14.6px;font-weight:400;color:#020817;letter-spacing:0.000px;-webkit-text-stroke:0.15px #020817;">2</span>
<span class="t" style="left:1197.13px;top:561px;line-height:16px;height:16px;font-size:14.6px;font-weight:400;color:#020817;letter-spacing:0.000px;-webkit-text-stroke:0.15px #020817;">3</span>
<span class="t" style="left:1259.80px;top:561px;line-height:16px;height:16px;font-size:14.6px;font-weight:400;color:#020817;letter-spacing:0.000px;-webkit-text-stroke:0.15px #020817;">4</span>
<span class="t" style="left:1322.44px;top:561px;line-height:16px;height:16px;font-size:14.6px;font-weight:400;color:#020817;letter-spacing:0.000px;-webkit-text-stroke:0.15px #020817;">5</span>
<span class="t" style="left:1385.04px;top:561px;line-height:16px;height:16px;font-size:14.6px;font-weight:400;color:#020817;letter-spacing:0.000px;-webkit-text-stroke:0.15px #020817;">6</span>
<div class="ev evb" style="left:1435.67px;top:553.00px"></div>
<span class="t" style="left:1447.76px;top:561px;line-height:16px;height:16px;font-size:14.6px;font-weight:700;color:#1b3499;letter-spacing:0.000px;-webkit-text-stroke:0.15px #1b3499;">7</span>
<span class="t" style="left:1510.42px;top:561px;line-height:16px;height:16px;font-size:14.6px;font-weight:400;color:#020817;letter-spacing:0.000px;-webkit-text-stroke:0.15px #020817;">8</span>
<span class="t" style="left:1134.42px;top:597px;line-height:16px;height:16px;font-size:14.6px;font-weight:400;color:#020817;letter-spacing:0.000px;-webkit-text-stroke:0.15px #020817;">9</span>
<div class="ev evb" style="left:1185.00px;top:589.00px"></div>
<span class="t" style="left:1192.78px;top:597px;line-height:16px;height:16px;font-size:14.6px;font-weight:700;color:#1b3499;letter-spacing:0.184px;-webkit-text-stroke:0.15px #1b3499;">10</span>
<span class="t" style="left:1256.19px;top:597px;line-height:16px;height:16px;font-size:14.6px;font-weight:400;color:#020817;letter-spacing:-0.300px;-webkit-text-stroke:0.15px #020817;">11</span>
<span class="t" style="left:1318.33px;top:597px;line-height:16px;height:16px;font-size:14.6px;font-weight:400;color:#020817;letter-spacing:-0.300px;-webkit-text-stroke:0.15px #020817;">12</span>
<span class="t" style="left:1380.95px;top:597px;line-height:16px;height:16px;font-size:14.6px;font-weight:400;color:#020817;letter-spacing:-0.300px;-webkit-text-stroke:0.15px #020817;">13</span>
<div class="ev evb" style="left:1435.67px;top:589.00px"></div>
<span class="t" style="left:1443.43px;top:597px;line-height:16px;height:16px;font-size:14.6px;font-weight:700;color:#1b3499;letter-spacing:-0.300px;-webkit-text-stroke:0.15px #1b3499;">14</span>
<span class="t" style="left:1506.27px;top:597px;line-height:16px;height:16px;font-size:14.6px;font-weight:400;color:#020817;letter-spacing:-0.300px;-webkit-text-stroke:0.15px #020817;">15</span>
<span class="t" style="left:1130.28px;top:633px;line-height:16px;height:16px;font-size:14.6px;font-weight:400;color:#020817;letter-spacing:-0.300px;-webkit-text-stroke:0.15px #020817;">16</span>
<span class="t" style="left:1192.99px;top:633px;line-height:16px;height:16px;font-size:14.6px;font-weight:400;color:#020817;letter-spacing:-0.300px;-webkit-text-stroke:0.15px #020817;">17</span>
<span class="t" style="left:1255.61px;top:633px;line-height:16px;height:16px;font-size:14.6px;font-weight:400;color:#020817;letter-spacing:-0.300px;-webkit-text-stroke:0.15px #020817;">18</span>
<span class="t" style="left:1318.31px;top:633px;line-height:16px;height:16px;font-size:14.6px;font-weight:400;color:#020817;letter-spacing:-0.300px;-webkit-text-stroke:0.15px #020817;">19</span>
<span class="t" style="left:1380.65px;top:633px;line-height:16px;height:16px;font-size:14.6px;font-weight:400;color:#020817;letter-spacing:0.600px;-webkit-text-stroke:0.15px #020817;">20</span>
<span class="t" style="left:1443.84px;top:633px;line-height:16px;height:16px;font-size:14.6px;font-weight:400;color:#020817;letter-spacing:-0.300px;-webkit-text-stroke:0.15px #020817;">21</span>
<span class="t" style="left:1506.07px;top:633px;line-height:16px;height:16px;font-size:14.6px;font-weight:400;color:#020817;letter-spacing:0.600px;-webkit-text-stroke:0.15px #020817;">22</span>
<span class="t" style="left:1130.02px;top:669px;line-height:16px;height:16px;font-size:14.6px;font-weight:400;color:#020817;letter-spacing:0.600px;-webkit-text-stroke:0.15px #020817;">23</span>
<span class="t" style="left:1192.67px;top:669px;line-height:16px;height:16px;font-size:14.6px;font-weight:400;color:#020817;letter-spacing:0.428px;-webkit-text-stroke:0.15px #020817;">24</span>
<span class="t" style="left:1255.34px;top:669px;line-height:16px;height:16px;font-size:14.6px;font-weight:400;color:#020817;letter-spacing:0.600px;-webkit-text-stroke:0.15px #020817;">25</span>
<span class="t" style="left:1318.02px;top:669px;line-height:16px;height:16px;font-size:14.6px;font-weight:400;color:#020817;letter-spacing:0.600px;-webkit-text-stroke:0.15px #020817;">26</span>
<div class="ev evb" style="left:1373.00px;top:661.00px"></div>
<span class="t" style="left:1380.84px;top:669px;line-height:16px;height:16px;font-size:14.6px;font-weight:700;color:#1b3499;letter-spacing:0.513px;-webkit-text-stroke:0.15px #1b3499;">27</span>
<span class="t" style="left:1443.35px;top:669px;line-height:16px;height:16px;font-size:14.6px;font-weight:400;color:#020817;letter-spacing:0.600px;-webkit-text-stroke:0.15px #020817;">28</span>
<span class="t" style="left:1506.04px;top:669px;line-height:16px;height:16px;font-size:14.6px;font-weight:400;color:#020817;letter-spacing:0.600px;-webkit-text-stroke:0.15px #020817;">29</span>
<span class="t" style="left:1130.07px;top:705px;line-height:16px;height:16px;font-size:14.6px;font-weight:400;color:#020817;letter-spacing:0.600px;-webkit-text-stroke:0.15px #020817;">30</span>
<span class="t" style="left:1193.26px;top:705px;line-height:16px;height:16px;font-size:14.6px;font-weight:400;color:#020817;letter-spacing:-0.300px;-webkit-text-stroke:0.15px #020817;">31</span>
<div class="mc" style="left:136.00px;top:762px;width:468.67px"></div>
<h3 class="t" style="left:353.10px;top:782px;line-height:19px;height:19px;font-size:16.6px;font-weight:400;color:#020817;letter-spacing:0.585px;-webkit-text-stroke:0.35px #020817;">Abril</h3>
<span class="t" style="left:169.15px;top:819px;line-height:15px;height:15px;font-size:13.2px;font-weight:400;color:#5f6f86;letter-spacing:-0.395px;-webkit-text-stroke:0.3px #5f6f86;">Dom</span>
<span class="t" style="left:234.42px;top:819px;line-height:15px;height:15px;font-size:13.2px;font-weight:400;color:#5f6f86;letter-spacing:-0.088px;-webkit-text-stroke:0.3px #5f6f86;">Lun</span>
<span class="t" style="left:296.53px;top:819px;line-height:15px;height:15px;font-size:13.2px;font-weight:400;color:#5f6f86;letter-spacing:-0.208px;-webkit-text-stroke:0.3px #5f6f86;">Mar</span>
<span class="t" style="left:359.90px;top:819px;line-height:15px;height:15px;font-size:13.2px;font-weight:400;color:#5f6f86;letter-spacing:0.010px;-webkit-text-stroke:0.3px #5f6f86;">Mié</span>
<span class="t" style="left:423.34px;top:819px;line-height:15px;height:15px;font-size:13.2px;font-weight:400;color:#5f6f86;letter-spacing:-0.336px;-webkit-text-stroke:0.3px #5f6f86;">Jue</span>
<span class="t" style="left:487.31px;top:819px;line-height:15px;height:15px;font-size:13.2px;font-weight:400;color:#5f6f86;letter-spacing:-0.342px;-webkit-text-stroke:0.3px #5f6f86;">Vie</span>
<span class="t" style="left:548.08px;top:819px;line-height:15px;height:15px;font-size:13.2px;font-weight:400;color:#5f6f86;letter-spacing:-1.058px;-webkit-text-stroke:0.3px #5f6f86;">Sáb</span>
<span class="t" style="left:290.22px;top:851px;line-height:16px;height:16px;font-size:14.6px;font-weight:400;color:#020817;letter-spacing:0.000px;-webkit-text-stroke:0.15px #020817;">1</span>
<span class="t" style="left:353.09px;top:851px;line-height:16px;height:16px;font-size:14.6px;font-weight:400;color:#020817;letter-spacing:0.000px;-webkit-text-stroke:0.15px #020817;">2</span>
<span class="t" style="left:415.80px;top:851px;line-height:16px;height:16px;font-size:14.6px;font-weight:400;color:#020817;letter-spacing:0.000px;-webkit-text-stroke:0.15px #020817;">3</span>
<span class="t" style="left:478.47px;top:851px;line-height:16px;height:16px;font-size:14.6px;font-weight:400;color:#020817;letter-spacing:0.000px;-webkit-text-stroke:0.15px #020817;">4</span>
<span class="t" style="left:541.10px;top:851px;line-height:16px;height:16px;font-size:14.6px;font-weight:400;color:#020817;letter-spacing:0.000px;-webkit-text-stroke:0.15px #020817;">5</span>
<span class="t" style="left:165.04px;top:887px;line-height:16px;height:16px;font-size:14.6px;font-weight:400;color:#020817;letter-spacing:0.000px;-webkit-text-stroke:0.15px #020817;">6</span>
<span class="t" style="left:227.75px;top:887px;line-height:16px;height:16px;font-size:14.6px;font-weight:400;color:#020817;letter-spacing:0.000px;-webkit-text-stroke:0.15px #020817;">7</span>
<span class="t" style="left:290.42px;top:887px;line-height:16px;height:16px;font-size:14.6px;font-weight:400;color:#020817;letter-spacing:0.000px;-webkit-text-stroke:0.15px #020817;">8</span>
<span class="t" style="left:353.09px;top:887px;line-height:16px;height:16px;font-size:14.6px;font-weight:400;color:#020817;letter-spacing:0.000px;-webkit-text-stroke:0.15px #020817;">9</span>
<span class="t" style="left:411.58px;top:887px;line-height:16px;height:16px;font-size:14.6px;font-weight:400;color:#020817;letter-spacing:-0.300px;-webkit-text-stroke:0.15px #020817;">10</span>
<span class="t" style="left:474.86px;top:887px;line-height:16px;height:16px;font-size:14.6px;font-weight:400;color:#020817;letter-spacing:-0.300px;-webkit-text-stroke:0.15px #020817;">11</span>
<span class="t" style="left:536.99px;top:887px;line-height:16px;height:16px;font-size:14.6px;font-weight:400;color:#020817;letter-spacing:-0.300px;-webkit-text-stroke:0.15px #020817;">12</span>
<span class="t" style="left:160.95px;top:923px;line-height:16px;height:16px;font-size:14.6px;font-weight:400;color:#020817;letter-spacing:-0.300px;-webkit-text-stroke:0.15px #020817;">13</span>
<span class="t" style="left:223.51px;top:923px;line-height:16px;height:16px;font-size:14.6px;font-weight:400;color:#020817;letter-spacing:-0.300px;-webkit-text-stroke:0.15px #020817;">14</span>
<div class="ev evb" style="left:278.33px;top:915.00px"></div>
<span class="t" style="left:286.26px;top:923px;line-height:16px;height:16px;font-size:14.6px;font-weight:700;color:#1b3499;letter-spacing:-0.300px;-webkit-text-stroke:0.15px #1b3499;">15</span>
<span class="t" style="left:348.95px;top:923px;line-height:16px;height:16px;font-size:14.6px;font-weight:400;color:#020817;letter-spacing:-0.300px;-webkit-text-stroke:0.15px #020817;">16</span>
<span class="t" style="left:411.66px;top:923px;line-height:16px;height:16px;font-size:14.6px;font-weight:400;color:#020817;letter-spacing:-0.300px;-webkit-text-stroke:0.15px #020817;">17</span>
<span class="t" style="left:474.28px;top:923px;line-height:16px;height:16px;font-size:14.6px;font-weight:400;color:#020817;letter-spacing:-0.300px;-webkit-text-stroke:0.15px #020817;">18</span>
<span class="t" style="left:536.97px;top:923px;line-height:16px;height:16px;font-size:14.6px;font-weight:400;color:#020817;letter-spacing:-0.300px;-webkit-text-stroke:0.15px #020817;">19</span>
<span class="t" style="left:160.65px;top:959px;line-height:16px;height:16px;font-size:14.6px;font-weight:400;color:#020817;letter-spacing:0.600px;-webkit-text-stroke:0.15px #020817;">20</span>
<div class="ev evb" style="left:215.67px;top:951.00px"></div>
<span class="t" style="left:223.80px;top:959px;line-height:16px;height:16px;font-size:14.6px;font-weight:700;color:#1b3499;letter-spacing:-0.300px;-webkit-text-stroke:0.15px #1b3499;">21</span>
<span class="t" style="left:286.07px;top:959px;line-height:16px;height:16px;font-size:14.6px;font-weight:400;color:#020817;letter-spacing:0.600px;-webkit-text-stroke:0.15px #020817;">22</span>
<span class="t" style="left:348.69px;top:959px;line-height:16px;height:16px;font-size:14.6px;font-weight:400;color:#020817;letter-spacing:0.600px;-webkit-text-stroke:0.15px #020817;">23</span>
<span class="t" style="left:411.33px;top:959px;line-height:16px;height:16px;font-size:14.6px;font-weight:400;color:#020817;letter-spacing:0.428px;-webkit-text-stroke:0.15px #020817;">24</span>
<span class="t" style="left:474.01px;top:959px;line-height:16px;height:16px;font-size:14.6px;font-weight:400;color:#020817;letter-spacing:0.600px;-webkit-text-stroke:0.15px #020817;">25</span>
<span class="t" style="left:536.69px;top:959px;line-height:16px;height:16px;font-size:14.6px;font-weight:400;color:#020817;letter-spacing:0.600px;-webkit-text-stroke:0.15px #020817;">26</span>
<div class="mc" style="left:620.67px;top:762px;width:468.67px"></div>
<h3 class="t" style="left:833.19px;top:782px;line-height:19px;height:19px;font-size:16.6px;font-weight:400;color:#020817;letter-spacing:0.794px;-webkit-text-stroke:0.35px #020817;">Mayo</h3>
<span class="t" style="left:653.82px;top:819px;line-height:15px;height:15px;font-size:13.2px;font-weight:400;color:#5f6f86;letter-spacing:-0.395px;-webkit-text-stroke:0.3px #5f6f86;">Dom</span>
<span class="t" style="left:719.08px;top:819px;line-height:15px;height:15px;font-size:13.2px;font-weight:400;color:#5f6f86;letter-spacing:-0.088px;-webkit-text-stroke:0.3px #5f6f86;">Lun</span>
<span class="t" style="left:781.20px;top:819px;line-height:15px;height:15px;font-size:13.2px;font-weight:400;color:#5f6f86;letter-spacing:-0.208px;-webkit-text-stroke:0.3px #5f6f86;">Mar</span>
<span class="t" style="left:844.57px;top:819px;line-height:15px;height:15px;font-size:13.2px;font-weight:400;color:#5f6f86;letter-spacing:0.010px;-webkit-text-stroke:0.3px #5f6f86;">Mié</span>
<span class="t" style="left:908.01px;top:819px;line-height:15px;height:15px;font-size:13.2px;font-weight:400;color:#5f6f86;letter-spacing:-0.336px;-webkit-text-stroke:0.3px #5f6f86;">Jue</span>
<span class="t" style="left:971.98px;top:819px;line-height:15px;height:15px;font-size:13.2px;font-weight:400;color:#5f6f86;letter-spacing:-0.342px;-webkit-text-stroke:0.3px #5f6f86;">Vie</span>
<span class="t" style="left:1032.75px;top:819px;line-height:15px;height:15px;font-size:13.2px;font-weight:400;color:#5f6f86;letter-spacing:-1.058px;-webkit-text-stroke:0.3px #5f6f86;">Sáb</span>
<span class="t" style="left:900.22px;top:851px;line-height:16px;height:16px;font-size:14.6px;font-weight:400;color:#020817;letter-spacing:0.000px;-webkit-text-stroke:0.15px #020817;">1</span>
<span class="t" style="left:963.09px;top:851px;line-height:16px;height:16px;font-size:14.6px;font-weight:400;color:#020817;letter-spacing:0.000px;-webkit-text-stroke:0.15px #020817;">2</span>
<span class="t" style="left:1025.80px;top:851px;line-height:16px;height:16px;font-size:14.6px;font-weight:400;color:#020817;letter-spacing:0.000px;-webkit-text-stroke:0.15px #020817;">3</span>
<span class="t" style="left:649.80px;top:887px;line-height:16px;height:16px;font-size:14.6px;font-weight:400;color:#020817;letter-spacing:0.000px;-webkit-text-stroke:0.15px #020817;">4</span>
<span class="t" style="left:712.44px;top:887px;line-height:16px;height:16px;font-size:14.6px;font-weight:400;color:#020817;letter-spacing:0.000px;-webkit-text-stroke:0.15px #020817;">5</span>
<span class="t" style="left:775.04px;top:887px;line-height:16px;height:16px;font-size:14.6px;font-weight:400;color:#020817;letter-spacing:0.000px;-webkit-text-stroke:0.15px #020817;">6</span>
<span class="t" style="left:837.75px;top:887px;line-height:16px;height:16px;font-size:14.6px;font-weight:400;color:#020817;letter-spacing:0.000px;-webkit-text-stroke:0.15px #020817;">7</span>
<span class="t" style="left:900.42px;top:887px;line-height:16px;height:16px;font-size:14.6px;font-weight:400;color:#020817;letter-spacing:0.000px;-webkit-text-stroke:0.15px #020817;">8</span>
<span class="t" style="left:963.09px;top:887px;line-height:16px;height:16px;font-size:14.6px;font-weight:400;color:#020817;letter-spacing:0.000px;-webkit-text-stroke:0.15px #020817;">9</span>
<span class="t" style="left:1021.58px;top:887px;line-height:16px;height:16px;font-size:14.6px;font-weight:400;color:#020817;letter-spacing:-0.300px;-webkit-text-stroke:0.15px #020817;">10</span>
<span class="t" style="left:646.19px;top:923px;line-height:16px;height:16px;font-size:14.6px;font-weight:400;color:#020817;letter-spacing:-0.300px;-webkit-text-stroke:0.15px #020817;">11</span>
<span class="t" style="left:708.33px;top:923px;line-height:16px;height:16px;font-size:14.6px;font-weight:400;color:#020817;letter-spacing:-0.300px;-webkit-text-stroke:0.15px #020817;">12</span>
<span class="t" style="left:770.95px;top:923px;line-height:16px;height:16px;font-size:14.6px;font-weight:400;color:#020817;letter-spacing:-0.300px;-webkit-text-stroke:0.15px #020817;">13</span>
<span class="t" style="left:833.51px;top:923px;line-height:16px;height:16px;font-size:14.6px;font-weight:400;color:#020817;letter-spacing:-0.300px;-webkit-text-stroke:0.15px #020817;">14</span>
<div class="ev evb" style="left:888.33px;top:915.00px"></div>
<span class="t" style="left:896.26px;top:923px;line-height:16px;height:16px;font-size:14.6px;font-weight:700;color:#1b3499;letter-spacing:-0.300px;-webkit-text-stroke:0.15px #1b3499;">15</span>
<span class="t" style="left:958.95px;top:923px;line-height:16px;height:16px;font-size:14.6px;font-weight:400;color:#020817;letter-spacing:-0.300px;-webkit-text-stroke:0.15px #020817;">16</span>
<span class="t" style="left:1021.66px;top:923px;line-height:16px;height:16px;font-size:14.6px;font-weight:400;color:#020817;letter-spacing:-0.300px;-webkit-text-stroke:0.15px #020817;">17</span>
<span class="t" style="left:645.61px;top:959px;line-height:16px;height:16px;font-size:14.6px;font-weight:400;color:#020817;letter-spacing:-0.300px;-webkit-text-stroke:0.15px #020817;">18</span>
<div class="ev evb" style="left:700.33px;top:951.00px"></div>
<span class="t" style="left:708.33px;top:959px;line-height:16px;height:16px;font-size:14.6px;font-weight:700;color:#1b3499;letter-spacing:-0.300px;-webkit-text-stroke:0.15px #1b3499;">19</span>
<span class="t" style="left:770.65px;top:959px;line-height:16px;height:16px;font-size:14.6px;font-weight:400;color:#020817;letter-spacing:0.600px;-webkit-text-stroke:0.15px #020817;">20</span>
<span class="t" style="left:833.84px;top:959px;line-height:16px;height:16px;font-size:14.6px;font-weight:400;color:#020817;letter-spacing:-0.300px;-webkit-text-stroke:0.15px #020817;">21</span>
<span class="t" style="left:896.07px;top:959px;line-height:16px;height:16px;font-size:14.6px;font-weight:400;color:#020817;letter-spacing:0.600px;-webkit-text-stroke:0.15px #020817;">22</span>
<span class="t" style="left:958.69px;top:959px;line-height:16px;height:16px;font-size:14.6px;font-weight:400;color:#020817;letter-spacing:0.600px;-webkit-text-stroke:0.15px #020817;">23</span>
<span class="t" style="left:1021.33px;top:959px;line-height:16px;height:16px;font-size:14.6px;font-weight:400;color:#020817;letter-spacing:0.428px;-webkit-text-stroke:0.15px #020817;">24</span>
<div class="mc" style="left:1105.33px;top:762px;width:468.67px"></div>
<h3 class="t" style="left:1318.96px;top:782px;line-height:19px;height:19px;font-size:16.6px;font-weight:400;color:#020817;letter-spacing:0.546px;-webkit-text-stroke:0.35px #020817;">Junio</h3>
<span class="t" style="left:1138.48px;top:819px;line-height:15px;height:15px;font-size:13.2px;font-weight:400;color:#5f6f86;letter-spacing:-0.395px;-webkit-text-stroke:0.3px #5f6f86;">Dom</span>
<span class="t" style="left:1203.75px;top:819px;line-height:15px;height:15px;font-size:13.2px;font-weight:400;color:#5f6f86;letter-spacing:-0.088px;-webkit-text-stroke:0.3px #5f6f86;">Lun</span>
<span class="t" style="left:1265.87px;top:819px;line-height:15px;height:15px;font-size:13.2px;font-weight:400;color:#5f6f86;letter-spacing:-0.208px;-webkit-text-stroke:0.3px #5f6f86;">Mar</span>
<span class="t" style="left:1329.23px;top:819px;line-height:15px;height:15px;font-size:13.2px;font-weight:400;color:#5f6f86;letter-spacing:0.010px;-webkit-text-stroke:0.3px #5f6f86;">Mié</span>
<span class="t" style="left:1392.68px;top:819px;line-height:15px;height:15px;font-size:13.2px;font-weight:400;color:#5f6f86;letter-spacing:-0.336px;-webkit-text-stroke:0.3px #5f6f86;">Jue</span>
<span class="t" style="left:1456.64px;top:819px;line-height:15px;height:15px;font-size:13.2px;font-weight:400;color:#5f6f86;letter-spacing:-0.342px;-webkit-text-stroke:0.3px #5f6f86;">Vie</span>
<span class="t" style="left:1517.42px;top:819px;line-height:15px;height:15px;font-size:13.2px;font-weight:400;color:#5f6f86;letter-spacing:-1.058px;-webkit-text-stroke:0.3px #5f6f86;">Sáb</span>
<span class="t" style="left:1134.22px;top:851px;line-height:16px;height:16px;font-size:14.6px;font-weight:400;color:#020817;letter-spacing:0.000px;-webkit-text-stroke:0.15px #020817;">1</span>
<span class="t" style="left:1197.09px;top:851px;line-height:16px;height:16px;font-size:14.6px;font-weight:400;color:#020817;letter-spacing:0.000px;-webkit-text-stroke:0.15px #020817;">2</span>
<span class="t" style="left:1259.80px;top:851px;line-height:16px;height:16px;font-size:14.6px;font-weight:400;color:#020817;letter-spacing:0.000px;-webkit-text-stroke:0.15px #020817;">3</span>
<span class="t" style="left:1322.47px;top:851px;line-height:16px;height:16px;font-size:14.6px;font-weight:400;color:#020817;letter-spacing:0.000px;-webkit-text-stroke:0.15px #020817;">4</span>
<span class="t" style="left:1385.10px;top:851px;line-height:16px;height:16px;font-size:14.6px;font-weight:400;color:#020817;letter-spacing:0.000px;-webkit-text-stroke:0.15px #020817;">5</span>
<div class="ev evb" style="left:1435.67px;top:843.00px"></div>
<span class="t" style="left:1447.75px;top:851px;line-height:16px;height:16px;font-size:14.6px;font-weight:700;color:#1b3499;letter-spacing:0.000px;-webkit-text-stroke:0.15px #1b3499;">6</span>
<span class="t" style="left:1510.41px;top:851px;line-height:16px;height:16px;font-size:14.6px;font-weight:400;color:#020817;letter-spacing:0.000px;-webkit-text-stroke:0.15px #020817;">7</span>
<span class="t" style="left:1134.42px;top:887px;line-height:16px;height:16px;font-size:14.6px;font-weight:400;color:#020817;letter-spacing:0.000px;-webkit-text-stroke:0.15px #020817;">8</span>
<span class="t" style="left:1197.09px;top:887px;line-height:16px;height:16px;font-size:14.6px;font-weight:400;color:#020817;letter-spacing:0.000px;-webkit-text-stroke:0.15px #020817;">9</span>
<span class="t" style="left:1255.58px;top:887px;line-height:16px;height:16px;font-size:14.6px;font-weight:400;color:#020817;letter-spacing:-0.300px;-webkit-text-stroke:0.15px #020817;">10</span>
<span class="t" style="left:1318.86px;top:887px;line-height:16px;height:16px;font-size:14.6px;font-weight:400;color:#020817;letter-spacing:-0.300px;-webkit-text-stroke:0.15px #020817;">11</span>
<span class="t" style="left:1380.99px;top:887px;line-height:16px;height:16px;font-size:14.6px;font-weight:400;color:#020817;letter-spacing:-0.300px;-webkit-text-stroke:0.15px #020817;">12</span>
<div class="ev evb" style="left:1435.67px;top:879.00px"></div>
<span class="t" style="left:1443.65px;top:887px;line-height:16px;height:16px;font-size:14.6px;font-weight:700;color:#1b3499;letter-spacing:-0.300px;-webkit-text-stroke:0.15px #1b3499;">13</span>
<span class="t" style="left:1506.17px;top:887px;line-height:16px;height:16px;font-size:14.6px;font-weight:400;color:#020817;letter-spacing:-0.300px;-webkit-text-stroke:0.15px #020817;">14</span>
<span class="t" style="left:1130.27px;top:923px;line-height:16px;height:16px;font-size:14.6px;font-weight:400;color:#020817;letter-spacing:-0.300px;-webkit-text-stroke:0.15px #020817;">15</span>
<div class="ev evo" style="left:1185.00px;top:915.00px"></div>
<span class="t" style="left:1192.99px;top:923px;line-height:16px;height:16px;font-size:14.6px;font-weight:700;color:#020817;letter-spacing:-0.300px;-webkit-text-stroke:0.15px #020817;">16</span>
<span class="t" style="left:1255.66px;top:923px;line-height:16px;height:16px;font-size:14.6px;font-weight:400;color:#020817;letter-spacing:-0.300px;-webkit-text-stroke:0.15px #020817;">17</span>
<span class="t" style="left:1318.28px;top:923px;line-height:16px;height:16px;font-size:14.6px;font-weight:400;color:#020817;letter-spacing:-0.300px;-webkit-text-stroke:0.15px #020817;">18</span>
<span class="t" style="left:1380.97px;top:923px;line-height:16px;height:16px;font-size:14.6px;font-weight:400;color:#020817;letter-spacing:-0.300px;-webkit-text-stroke:0.15px #020817;">19</span>
<div class="ev evr" style="left:1435.67px;top:915.00px"></div>
<span class="t" style="left:1443.45px;top:923px;line-height:16px;height:16px;font-size:14.6px;font-weight:700;color:#020817;letter-spacing:0.600px;-webkit-text-stroke:0.15px #020817;">20</span>
<span class="t" style="left:1506.51px;top:923px;line-height:16px;height:16px;font-size:14.6px;font-weight:400;color:#020817;letter-spacing:-0.300px;-webkit-text-stroke:0.15px #020817;">21</span>
<span class="t" style="left:1130.07px;top:959px;line-height:16px;height:16px;font-size:14.6px;font-weight:400;color:#020817;letter-spacing:0.600px;-webkit-text-stroke:0.15px #020817;">22</span>
<span class="t" style="left:1192.69px;top:959px;line-height:16px;height:16px;font-size:14.6px;font-weight:400;color:#020817;letter-spacing:0.600px;-webkit-text-stroke:0.15px #020817;">23</span>
<span class="t" style="left:1255.33px;top:959px;line-height:16px;height:16px;font-size:14.6px;font-weight:400;color:#020817;letter-spacing:0.428px;-webkit-text-stroke:0.15px #020817;">24</span>
<span class="t" style="left:1318.01px;top:959px;line-height:16px;height:16px;font-size:14.6px;font-weight:400;color:#020817;letter-spacing:0.600px;-webkit-text-stroke:0.15px #020817;">25</span>
<span class="t" style="left:1380.69px;top:959px;line-height:16px;height:16px;font-size:14.6px;font-weight:400;color:#020817;letter-spacing:0.600px;-webkit-text-stroke:0.15px #020817;">26</span>
<span class="t" style="left:1443.68px;top:959px;line-height:16px;height:16px;font-size:14.6px;font-weight:400;color:#020817;letter-spacing:0.034px;-webkit-text-stroke:0.15px #020817;">27</span>
<span class="t" style="left:1506.02px;top:959px;line-height:16px;height:16px;font-size:14.6px;font-weight:400;color:#020817;letter-spacing:0.600px;-webkit-text-stroke:0.15px #020817;">28</span>
</section>
</main>
</body></html>
